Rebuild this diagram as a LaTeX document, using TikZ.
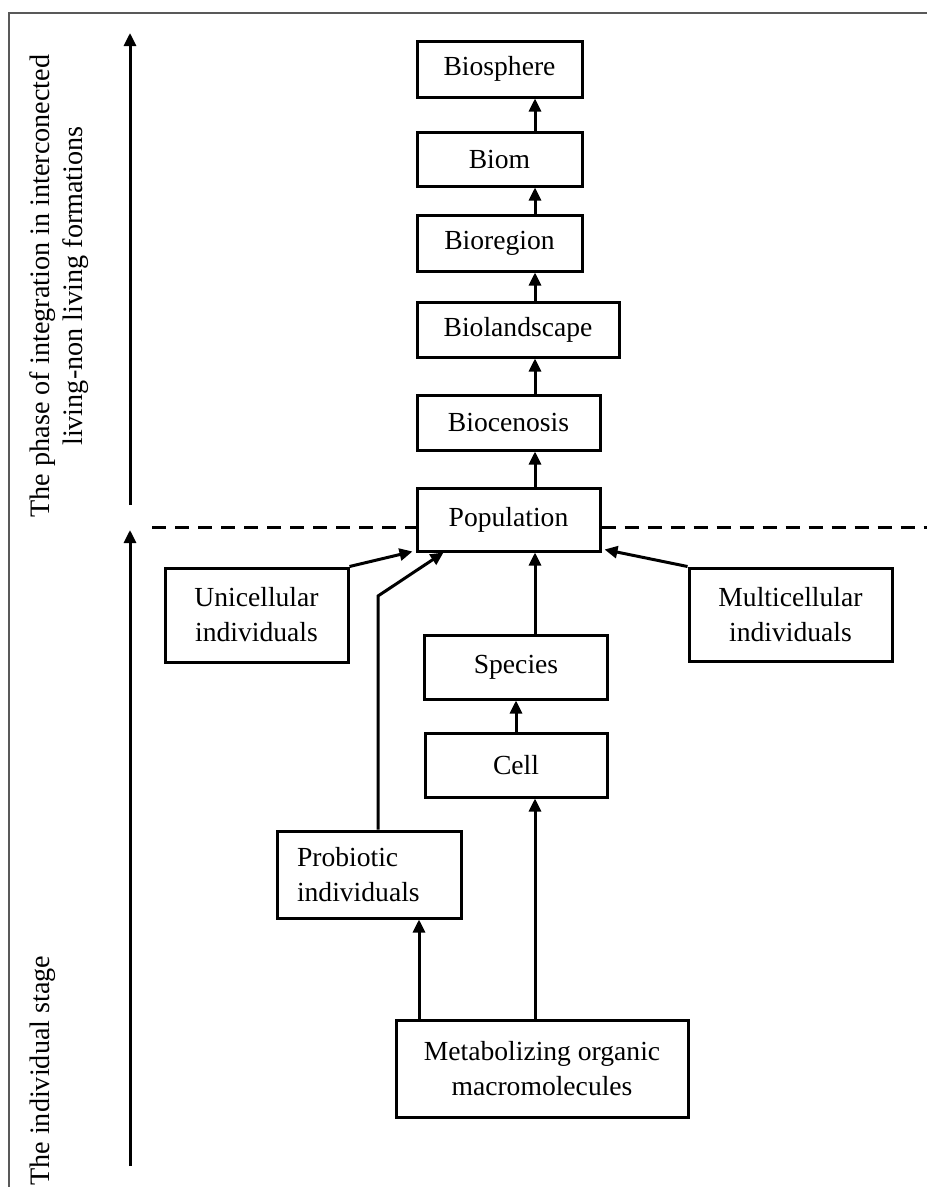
\documentclass[tikz,border=0pt]{standalone}
\usepackage{fontspec}
\setmainfont{Liberation Serif}
\usetikzlibrary{arrows.meta,calc}
\begin{document}
\begin{tikzpicture}[x=1pt,y=-1pt,
  box/.style={draw=black,line width=3pt,inner sep=0pt,align=center,font=\fontsize{27.6}{35}\selectfont},
  arr/.style={line width=3pt,-{Triangle[length=13pt,width=12pt]}},
  dashline/.style={line width=3pt,dash pattern=on 14pt off 9pt},
  frameline/.style={line width=2pt,draw=black!65},
  sidetext/.style={font=\fontsize{28.2}{33}\selectfont,rotate=90,align=center,inner sep=0pt}]
\useasboundingbox (0,0) rectangle (927,1187);
% frame
\coordinate (f0) at (9,1187);
\coordinate (f1) at (9,13);
\coordinate (f2) at (927,13);
\draw[frameline] (f0) -- (f1) -- (f2);

% boxes
\node[box,minimum width=165,minimum height=56] (biosphere) at (499.5,69) {Biosphere};
\node[box,minimum width=165,minimum height=54] (biom) at (499.5,159) {Biom};
\node[box,minimum width=165,minimum height=56] (bioregion) at (499.5,243) {Bioregion};
\node[box,minimum width=202,minimum height=55] (biolandscape) at (518,329.5) {Biolandscape};
\node[box,minimum width=183,minimum height=55] (biocenosis) at (508.5,422.5) {Biocenosis};
\node[box,minimum width=183,minimum height=63] (population) at (508.5,519.5) {Population};
\node[box,minimum width=183,minimum height=94] (unicellular) at (256.5,615) {Unicellular\\individuals};
\node[box,minimum width=203,minimum height=93] (multicellular) at (790.5,614.5) {Multicellular\\individuals};
\node[box,minimum width=183,minimum height=64] (species) at (516,667) {Species};
\node[box,minimum width=182,minimum height=64] (cell) at (516,765) {Cell};
\node[box,minimum width=184,minimum height=87,align=left,text width=144] (probiotic) at (369,874.5) {Probiotic\\individuals};
\node[box,minimum width=292,minimum height=97] (metabolizing) at (542,1068.5) {Metabolizing organic\\macromolecules};

% side texts
\node[sidetext] (phase) at (59,286) {The phase of integration in interconected\\living-non living formations};
\node[sidetext,anchor=west] (indiv) at (43,1186) {The individual stage};

% side arrows
\coordinate (a1s) at (130,505);
\coordinate (a1e) at (130,33);
\coordinate (a2s) at (130,1166);
\coordinate (a2e) at (130,530);
\draw[arr] (a1s) -- (a1e);
\draw[arr] (a2s) -- (a2e);

% dashed separator
\coordinate (dl) at (152,527);
\coordinate (dr) at (927,527);
\draw[dashline] (dl) -- (dl -| population.west);
\draw[dashline] (population.east |- dr) -- (dr);

% vertical chain
\coordinate (cx) at (535,0);
\coordinate (sx) at (516,0);
\coordinate (px) at (419,0);
\coordinate (qx) at (378,0);
\draw[arr] (biom.north -| cx) -- (biosphere.south -| cx);
\draw[arr] (bioregion.north -| cx) -- (biom.south -| cx);
\draw[arr] (biolandscape.north -| cx) -- (bioregion.south -| cx);
\draw[arr] (biocenosis.north -| cx) -- (biolandscape.south -| cx);
\draw[arr] (population.north -| cx) -- (biocenosis.south -| cx);
\draw[arr] (species.north -| cx) -- (population.south -| cx);
\draw[arr] (cell.north -| sx) -- (species.south -| sx);
\draw[arr] (metabolizing.north -| cx) -- (cell.south -| cx);
\draw[arr] (metabolizing.north -| px) -- (probiotic.south -| px);

% side inputs
\coordinate (qbend) at (378,596);
\draw[arr] (probiotic.north -| qx) -- (qbend) -- ($(population.south west)+(28,0)$);
\draw[arr] (unicellular.north east) -- ($(population.south west)+(-3,-1)$);
\draw[arr] (multicellular.north west) -- ($(population.south east)+(3,-3)$);
\end{tikzpicture}
\end{document}
